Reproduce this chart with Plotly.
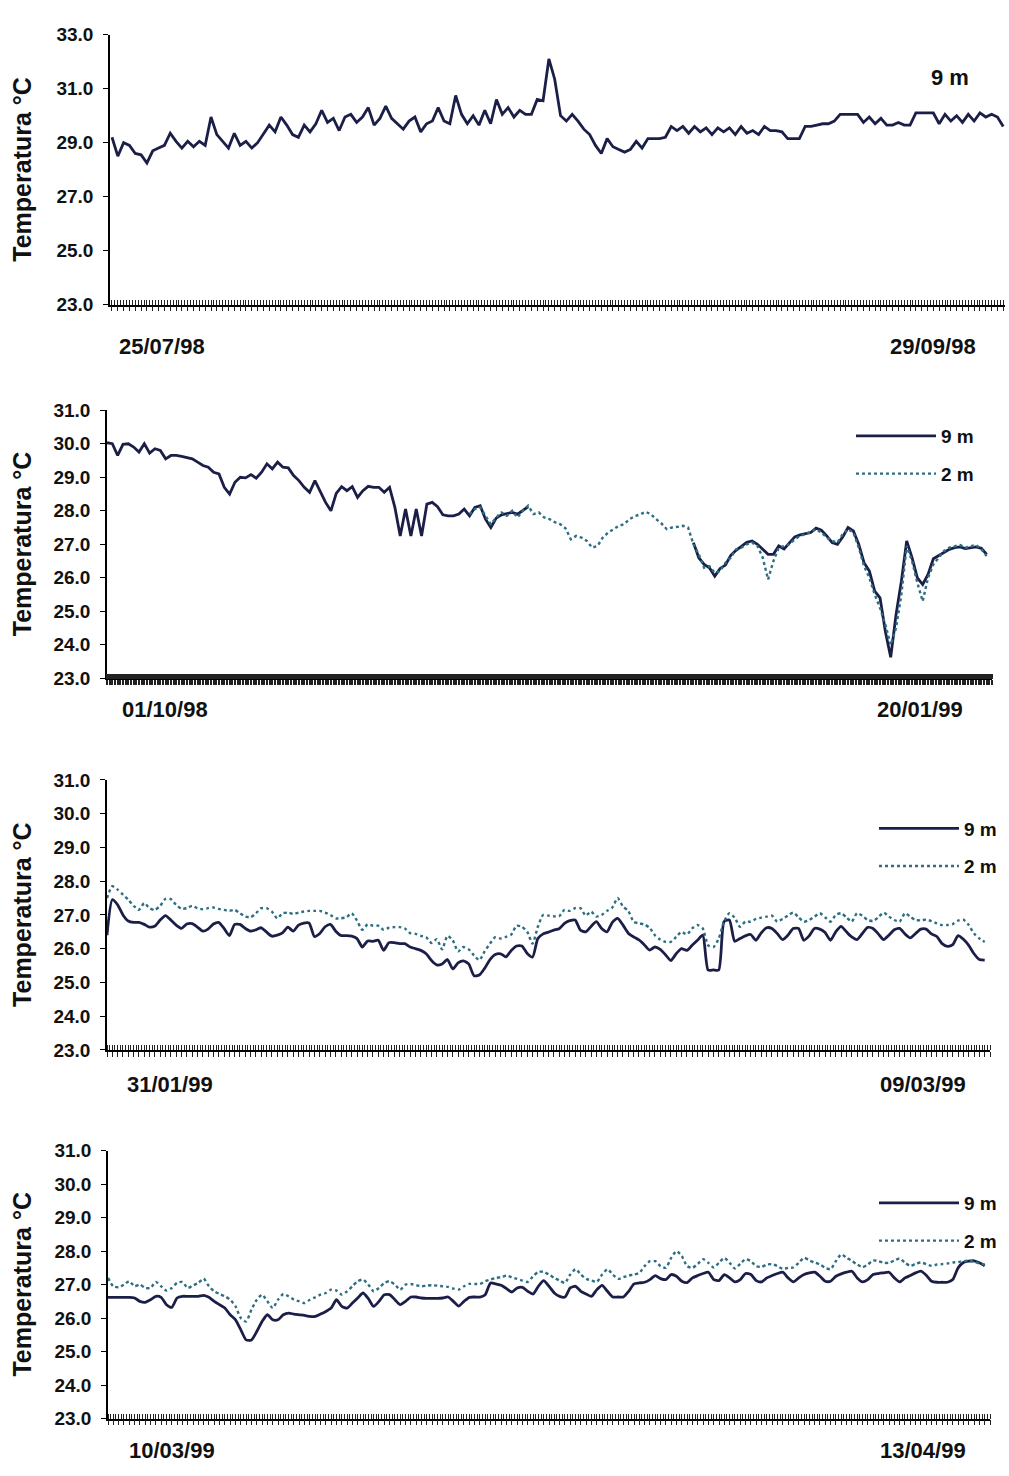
import plotly.graph_objects as go

W, H = 1009, 1476

# ---------------- DATA ----------------
# Panel 1: 25/07/98 - 29/09/98, 9 m only
p1_t9 = [29.2, 28.5, 29.0, 28.9, 28.6, 28.55, 28.25, 28.7, 28.8, 28.9,
         29.35, 29.05, 28.8, 29.05, 28.85, 29.05, 28.9, 29.95, 29.3, 29.05,
         28.8, 29.35, 28.9, 29.05, 28.8, 29.0, 29.35, 29.65, 29.4, 29.95,
         29.65, 29.3, 29.2, 29.65, 29.4, 29.7, 30.2, 29.75, 29.9, 29.45,
         29.95, 30.05, 29.75, 29.95, 30.3, 29.65, 29.9, 30.35, 29.9, 29.7,
         29.5, 29.8, 29.95, 29.4, 29.7, 29.8, 30.3, 29.8, 29.7, 30.75,
         30.05, 29.7, 30.0, 29.65, 30.2, 29.7, 30.6, 30.05, 30.3, 29.95,
         30.2, 30.05, 30.05, 30.6, 30.55, 32.1, 31.35, 30.0,
         29.8, 30.05, 29.8, 29.5, 29.3, 28.9, 28.6, 29.15, 28.85, 28.75,
         28.65, 28.75, 29.05, 28.8, 29.15, 29.15, 29.15, 29.2, 29.6, 29.45,
         29.6, 29.35, 29.6, 29.4, 29.55, 29.3, 29.55, 29.4, 29.55, 29.3,
         29.6, 29.35, 29.45, 29.3, 29.6, 29.45, 29.45, 29.4, 29.15, 29.15,
         29.15, 29.6, 29.6, 29.65, 29.7, 29.7, 29.8, 30.05, 30.05, 30.05,
         30.05, 29.75, 29.95, 29.7, 29.9, 29.65, 29.65, 29.75, 29.65, 29.65,
         30.1, 30.1, 30.1, 30.1, 29.7, 30.05, 29.8, 30.0, 29.75, 30.05,
         29.8, 30.1, 29.95, 30.05, 29.95, 29.6]

# Panel 2: 01/10/98 - 20/01/99
p2_t9 = [30.03, 30.0, 29.65, 29.98, 30.0, 29.9, 29.75, 30.0, 29.72, 29.85,
         29.8, 29.55, 29.65, 29.65, 29.62, 29.58, 29.55, 29.45, 29.35, 29.3,
         29.15, 29.1, 28.7, 28.5, 28.85, 29.0, 28.98, 29.08, 28.97, 29.15,
         29.4, 29.25, 29.45, 29.3, 29.28, 29.05, 28.9, 28.7, 28.55, 28.9,
         28.55, 28.25, 28.0, 28.52, 28.72, 28.6, 28.72, 28.4, 28.6, 28.73,
         28.7, 28.7, 28.55, 28.7, 28.1, 27.25, 28.05, 27.25, 28.05, 27.25,
         28.2, 28.25, 28.12, 27.88, 27.85, 27.85, 27.9, 28.05, 27.85, 28.1,
         28.15, 27.75, 27.5, 27.78, 27.88, 27.92, 27.95, 27.9, 28.0, 28.12] + \
        [None] * 30 + \
        [27.05, 26.6, 26.4, 26.3, 26.05, 26.28, 26.38, 26.67, 26.82, 26.93,
         27.06, 27.1, 27.0, 26.85, 26.7, 26.7, 26.95, 26.86, 27.05, 27.22,
         27.28, 27.32, 27.35, 27.48, 27.42, 27.25, 27.05, 27.0, 27.22, 27.5,
         27.4, 27.0, 26.45, 26.2, 25.6, 25.4, 24.4, 23.63, 24.9, 25.9,
         27.1, 26.6, 26.0, 25.8, 26.1, 26.57, 26.67, 26.75, 26.85, 26.9,
         26.92, 26.87, 26.9, 26.92, 26.88, 26.7]
p2_t2 = [None] * 68 + \
        [27.9, 28.05, 28.1, 27.85, 27.6, 27.8, 27.95, 27.85, 28.0, 27.8,
         28.0, 28.15, 27.9, 27.95, 27.8, 27.75, 27.66, 27.6,
         27.48, 27.15, 27.25, 27.2, 27.1, 26.9, 26.95, 27.2, 27.35, 27.45,
         27.55, 27.6, 27.75, 27.84, 27.89, 27.97, 27.9, 27.75, 27.62, 27.45,
         27.5, 27.52, 27.55, 27.5,
         27.0, 26.7, 26.3, 26.35, 26.15, 26.2, 26.45, 26.6, 26.85, 26.9,
         27.0, 27.05, 26.95, 26.6, 25.95, 26.5, 26.9, 26.95, 27.0, 27.15,
         27.25, 27.3, 27.38, 27.45, 27.35, 27.2, 27.1, 27.05, 27.3, 27.45,
         27.35, 26.9, 26.35, 26.0, 25.5, 25.1, 24.6, 24.0, 24.5, 25.5,
         26.95, 26.5, 25.85, 25.3, 26.0, 26.4, 26.6, 26.8, 26.9, 26.95,
         26.98, 26.9, 26.95, 26.98, 26.85, 26.65]

# Panel 3: 31/01/99 - 09/03/99
p3_t9 = [26.4, 27.45, 27.3, 27.0, 26.82, 26.78, 26.78, 26.72, 26.64, 26.67,
         26.85, 26.98, 26.85, 26.7, 26.6, 26.73, 26.74, 26.64, 26.52, 26.58,
         26.73, 26.78, 26.6, 26.39, 26.72, 26.72, 26.6, 26.52, 26.56, 26.62,
         26.49, 26.37, 26.4, 26.47, 26.64, 26.52, 26.7, 26.76, 26.76, 26.36,
         26.45, 26.65, 26.72, 26.52, 26.39, 26.39, 26.37, 26.3, 26.05, 26.23,
         26.22, 26.25, 25.95, 26.18, 26.18, 26.15, 26.15, 26.05, 26.0, 25.95,
         25.85, 25.65, 25.52, 25.55, 25.68, 25.4, 25.58, 25.64, 25.55, 25.2,
         25.22, 25.42, 25.68, 25.83, 25.85, 25.76, 25.95, 26.08, 26.08, 25.86,
         25.75, 26.3, 26.44, 26.49, 26.55, 26.59, 26.75, 26.83, 26.85, 26.55,
         26.5, 26.66, 26.8, 26.6, 26.5, 26.78, 26.9, 26.7, 26.46, 26.35,
         26.26, 26.12, 25.96, 26.05, 25.98, 25.82, 25.65, 25.85, 26.0, 25.95,
         26.1, 26.25, 26.4, 25.37, 25.37, 25.37, 26.8, 26.85, 26.22, 26.3,
         26.38, 26.42, 26.25, 26.47, 26.62, 26.6, 26.45, 26.27, 26.4, 26.6,
         26.6, 26.25, 26.38, 26.6, 26.58, 26.48, 26.25, 26.5, 26.66, 26.5,
         26.35, 26.27, 26.45, 26.63, 26.6, 26.44, 26.27, 26.4, 26.56, 26.6,
         26.44, 26.32, 26.45, 26.58, 26.58, 26.44, 26.36, 26.15, 26.07, 26.12,
         26.39, 26.28, 26.1, 25.85, 25.68, 25.66]
p3_t2 = [27.5, 27.85, 27.75, 27.6, 27.45, 27.27, 27.15, 27.35, 27.2, 27.15,
         27.27, 27.48, 27.47, 27.3, 27.18, 27.2, 27.27, 27.2, 27.17, 27.2,
         27.22, 27.18, 27.15, 27.12, 27.15, 27.05, 26.95, 26.93, 27.05, 27.2,
         27.2, 27.1, 26.9, 27.05, 27.07, 27.03, 27.07, 27.1, 27.12, 27.12,
         27.12, 27.07, 27.0, 26.9, 26.9, 26.93, 27.05, 26.83, 26.56, 26.72,
         26.68, 26.68, 26.56, 26.62, 26.64, 26.64, 26.6, 26.46, 26.44, 26.38,
         26.34, 26.17, 26.28, 25.98, 26.38, 26.25, 25.92, 26.05, 25.98, 25.8,
         25.66, 25.92, 26.15, 26.34, 26.3, 26.35, 26.42, 26.68, 26.65, 26.5,
         26.15, 26.65, 27.0, 26.98, 26.96, 26.96, 27.15, 27.12, 27.2, 27.2,
         26.98, 27.1, 26.95, 27.0, 27.12, 27.22, 27.5, 27.25, 27.12, 26.8,
         26.75, 26.72, 26.62, 26.4, 26.27, 26.2, 26.2, 26.35, 26.5, 26.42,
         26.6, 26.7, 26.6, 26.1, 26.05, 26.3, 26.8, 27.05, 26.92, 26.65,
         26.8, 26.8, 26.88, 26.92, 26.95, 26.98, 26.8, 26.88, 26.98, 27.07,
         26.93, 26.8, 26.85, 26.95, 27.05, 26.93, 26.8, 27.0, 27.05, 26.93,
         26.8, 27.05, 26.98, 26.85, 26.82, 26.93, 27.07, 26.95, 26.85, 26.8,
         27.05, 26.95, 26.85, 26.84, 26.86, 26.82, 26.75, 26.7, 26.7, 26.73,
         26.83, 26.86, 26.7, 26.45, 26.3, 26.2]

# Panel 4: 10/03/99 - 13/04/99
p4_t9 = [26.62, 26.62, 26.62, 26.62, 26.62, 26.6, 26.5, 26.47, 26.55, 26.65,
         26.62, 26.4, 26.32, 26.6, 26.65, 26.65, 26.65, 26.65, 26.68, 26.62,
         26.5, 26.4, 26.3, 26.1, 25.95, 25.65, 25.35, 25.35, 25.6, 25.9,
         26.1, 25.95, 25.95, 26.1, 26.15, 26.12, 26.1, 26.08, 26.05, 26.05,
         26.12, 26.2, 26.3, 26.55, 26.35, 26.3, 26.45, 26.6, 26.75, 26.58,
         26.35, 26.5, 26.7, 26.7, 26.55, 26.4, 26.5, 26.63, 26.63, 26.6,
         26.59, 26.59, 26.59, 26.6, 26.63, 26.5, 26.36, 26.5, 26.62, 26.63,
         26.63, 26.7, 27.05, 27.02, 26.98, 26.88, 26.78, 26.9, 26.92, 26.8,
         26.72, 26.95, 27.12, 26.95, 26.75, 26.65, 26.63, 26.9, 26.95, 26.8,
         26.72, 26.65, 26.85, 26.98, 26.8, 26.63, 26.63, 26.63, 26.8, 27.02,
         27.05, 27.07, 27.15, 27.27, 27.18, 27.15, 27.3, 27.25, 27.1, 27.06,
         27.2, 27.27, 27.33, 27.37, 27.15, 27.12, 27.3, 27.2, 27.08, 27.15,
         27.33, 27.3, 27.12, 27.08, 27.2, 27.27, 27.33, 27.37, 27.2, 27.08,
         27.2, 27.3, 27.35, 27.37, 27.25, 27.1, 27.1, 27.25, 27.32, 27.37,
         27.4, 27.2, 27.08, 27.15, 27.3, 27.33, 27.35, 27.37, 27.2, 27.08,
         27.2, 27.27, 27.35, 27.4, 27.28, 27.1, 27.07, 27.07, 27.07, 27.15,
         27.5, 27.66, 27.7, 27.71, 27.65, 27.56]
p4_t2 = [27.2, 26.95, 26.92, 27.0, 27.1, 26.95, 27.0, 26.9, 26.9, 27.08,
         26.95, 26.82, 26.9, 27.05, 27.08, 26.9, 26.98, 27.05, 27.18, 26.95,
         26.8, 26.72, 26.65, 26.55, 26.35, 26.0, 25.9, 26.25, 26.55, 26.7,
         26.5, 26.3, 26.55, 26.72, 26.65, 26.55, 26.5, 26.45, 26.55, 26.62,
         26.7, 26.75, 26.85, 26.82, 26.7, 26.8, 26.95, 27.1, 27.15, 27.0,
         26.8, 26.9, 27.05, 27.1, 27.0, 26.85, 27.0, 27.02, 26.98, 26.95,
         26.97, 26.98, 26.97, 26.95, 26.93, 26.88, 26.85, 26.95, 27.02, 27.02,
         27.02, 27.1, 27.15, 27.2, 27.22, 27.27, 27.22, 27.17, 27.12, 27.08,
         27.25, 27.38, 27.38, 27.3, 27.2, 27.12, 27.05, 27.3, 27.46, 27.3,
         27.17, 27.12, 27.08, 27.3, 27.46, 27.3, 27.17, 27.22, 27.27, 27.3,
         27.35, 27.55, 27.7, 27.7, 27.55, 27.5, 27.8, 28.0, 27.85, 27.55,
         27.5, 27.62, 27.76, 27.65, 27.51, 27.65, 27.8, 27.65, 27.48, 27.62,
         27.76, 27.7, 27.55, 27.53, 27.6, 27.61, 27.55, 27.47, 27.5, 27.51,
         27.65, 27.8, 27.72, 27.66, 27.6, 27.5, 27.46, 27.7, 27.9, 27.8,
         27.71, 27.6, 27.52, 27.6, 27.72, 27.7, 27.65, 27.65, 27.72, 27.78,
         27.65, 27.56, 27.62, 27.66, 27.61, 27.56, 27.6, 27.61, 27.63, 27.66,
         27.67, 27.7, 27.71, 27.68, 27.63, 27.6]

# date labels under each panel and their positions (sample index)
p1_dates, p1_date_pos = ["25/07/98", "29/09/98"], [8.6, 141.0]
p2_dates, p2_date_pos = ["01/10/98", "20/01/99"], [10.8, 152.5]
p3_dates, p3_date_pos = ["31/01/99", "09/03/99"], [11.9, 153.4]
p4_dates, p4_date_pos = ["10/03/99", "13/04/99"], [12.0, 153.4]

series_names = ["9 m", "2 m"]
y_title = "Temperatura °C"

# ---------------- STYLE / LAYOUT ----------------
NAVY = "#1b1f48"
TEAL = "#2d6f80"
FONT = "Liberation Sans, Arial, sans-serif"

# pixel boxes: left, right, top, bottom ; y range ; y dtick ; x range ; x dtick
panels = [
    dict(box=(110, 1005, 25, 299), yr=(23, 33), ydt=2, xr=(-0.34, 153.3), xdt=1.0, tw=1,
         series=[p1_t9], dates=p1_dates, dpos=p1_date_pos, dy=341, legend=None),
    dict(box=(107, 992, 406, 678), yr=(23, 31), ydt=1, xr=(0, 166), xdt=0.5, tw=1.5,
         series=[p2_t9, p2_t2], dates=p2_dates, dpos=p2_date_pos, dy=710, legend=(851, 413)),
    dict(box=(107, 990, 781, 1055), yr=(23, 31), ydt=1, xr=(0, 166), xdt=1.0, tw=1,
         series=[p3_t9, p3_t2], dates=p3_dates, dpos=p3_date_pos, dy=1090, legend=(874, 811)),
    dict(box=(108, 990, 1157, 1429), yr=(23, 31), ydt=1, xr=(0, 166), xdt=1.0, tw=1,
         series=[p4_t9, p4_t2], dates=p4_dates, dpos=p4_date_pos, dy=1461, legend=(874, 1191)),
]

fig = go.Figure()
annotations = []
layout = {}

for k, p in enumerate(panels, start=1):
    L, R, T, B = p["box"]
    xa = "x" if k == 1 else f"x{k}"
    ya = "y" if k == 1 else f"y{k}"
    leg = "legend" if k == 1 else f"legend{k}"
    smooth = k >= 3
    for j, vals in enumerate(p["series"]):
        is9 = j == 0
        fig.add_trace(go.Scatter(
            x=list(range(len(vals))), y=vals, mode="lines",
            name=series_names[j],
            line=dict(color=NAVY if is9 else TEAL, width=2.8 if is9 else 2.4,
                      dash="solid" if is9 else "dot",
                      shape="spline" if smooth else "linear", smoothing=0.6),
            connectgaps=False,
            xaxis=xa, yaxis=ya,
            showlegend=p["legend"] is not None,
            legend=leg, legendgroup=f"{k}-{j}",
        ))
    layout[f"xaxis{'' if k == 1 else k}"] = dict(
        domain=[L / W, R / W], anchor=ya, range=list(p["xr"]),
        showline=True, linecolor="black", linewidth=1.5,
        showgrid=False, zeroline=False, showticklabels=False,
        tickmode="linear", tick0=0, dtick=p["xdt"], ticks="outside",
        ticklen=5, tickwidth=p["tw"], tickcolor="#222",
        minor=dict(ticks="inside", ticklen=5, tickwidth=p["tw"], tickcolor="#222",
                   tickmode="linear", tick0=0, dtick=p["xdt"] / 2, showgrid=False),
    )
    layout[f"yaxis{'' if k == 1 else k}"] = dict(
        domain=[1 - B / H, 1 - T / H], anchor=xa, range=list(p["yr"]),
        showline=True, linecolor="black", linewidth=1.5,
        showgrid=False, zeroline=False,
        tickmode="linear", tick0=p["yr"][0], dtick=p["ydt"], tickformat=".1f",
        ticks="outside", ticklen=5, tickcolor="black", ticklabelstandoff=6,
        tickfont=dict(family=FONT, size=19, color="#111", weight="bold"),
    )
    # y-axis title
    annotations.append(dict(
        text=y_title, textangle=-90, xref="paper", yref="paper",
        x=22 / W, y=1 - (T + B) / 2 / H, showarrow=False,
        font=dict(family=FONT, size=25, color="#111", weight="bold"),
        xanchor="center", yanchor="middle"))
    # date labels
    for txt, pos in zip(p["dates"], p["dpos"]):
        annotations.append(dict(
            text=txt, xref=xa, yref="paper", x=pos, y=1 - p["dy"] / H,
            showarrow=False, xanchor="center", yanchor="middle",
            font=dict(family=FONT, size=22, color="#111", weight="bold")))
    if p["legend"] is not None:
        lx, ly = p["legend"]
        layout[leg] = dict(
            x=lx / W, y=1 - ly / H, xanchor="left", yanchor="top",
            bgcolor="rgba(0,0,0,0)", borderwidth=0, tracegroupgap=10,
            itemwidth=80, font=dict(family=FONT, size=19, color="#111", weight="bold"))

# "9 m" label in the first panel
annotations.append(dict(
    text="9 m", xref="paper", yref="paper", x=950 / W, y=1 - 68 / H,
    showarrow=False, xanchor="center", yanchor="middle",
    font=dict(family=FONT, size=22, color="#111", weight="bold")))

fig.update_layout(
    width=W, height=H, margin=dict(l=0, r=0, t=0, b=0),
    paper_bgcolor="white", plot_bgcolor="white",
    annotations=annotations, **layout)

fig.write_html("out.html", config={"displayModeBar": False},
               post_script="document.body.style.margin='0';")
